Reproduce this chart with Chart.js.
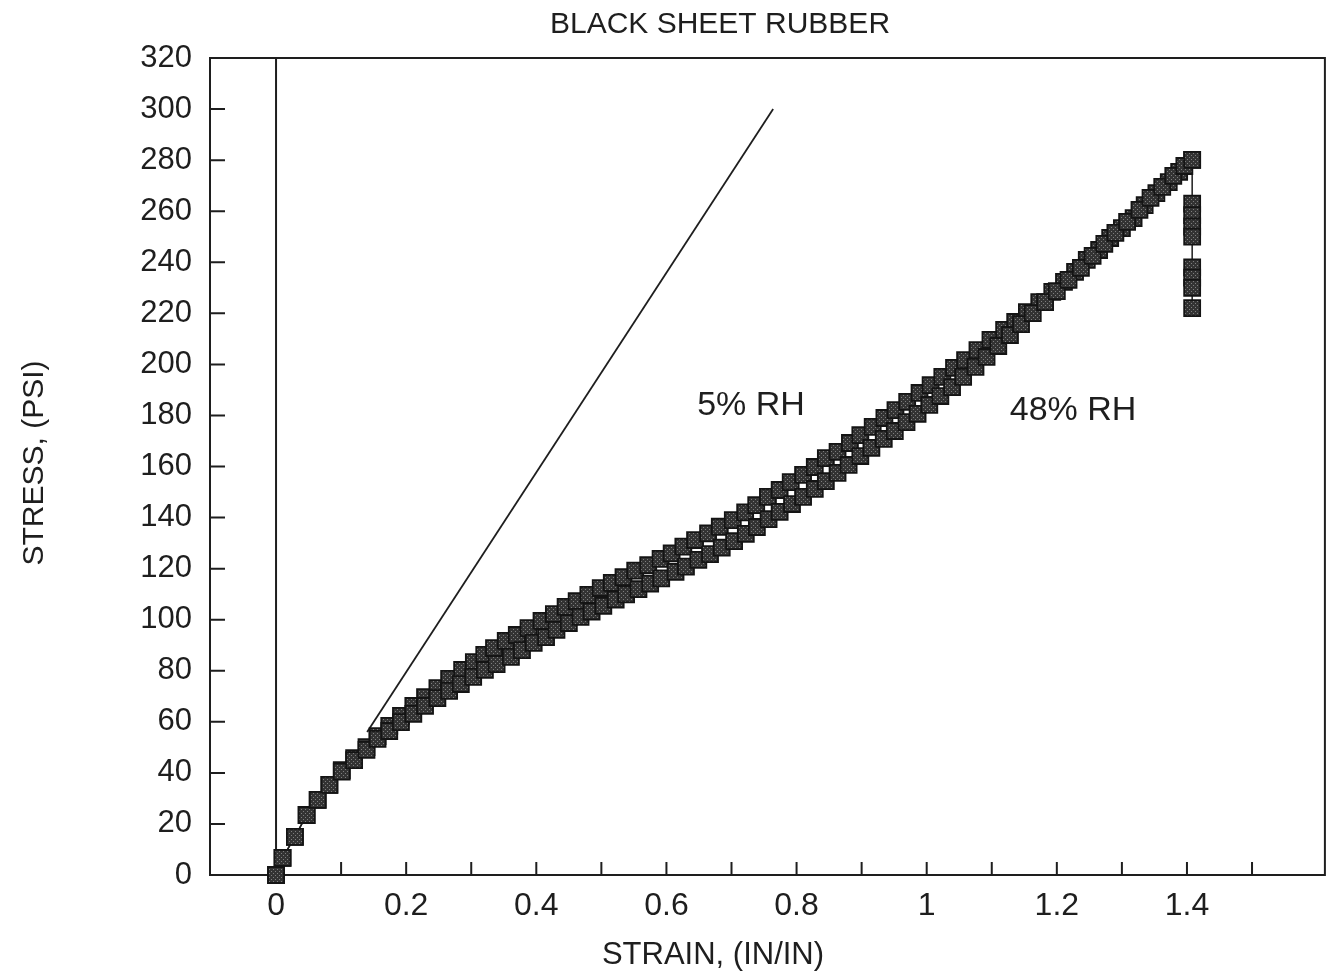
<!DOCTYPE html>
<html>
<head>
<meta charset="utf-8">
<script src="https://cdn.jsdelivr.net/npm/chart.js@4.4.1/dist/chart.umd.min.js"></script>
<style>
  html, body { margin: 0; padding: 0; background: #fff; }
  #wrap { width: 1338px; height: 976px; }
</style>
</head>
<body>
<div id="wrap"><canvas id="rubberChart"></canvas></div>
<script>
// 5% RH (upper curve)
const strainDry = [0, 0.010, 0.029, 0.047, 0.064, 0.082, 0.101, 0.120, 0.139, 0.156, 0.174, 0.192, 0.211, 0.229, 0.248, 0.266, 0.286, 0.304, 0.320, 0.335, 0.353, 0.370, 0.388, 0.408, 0.427, 0.445, 0.462, 0.480, 0.499, 0.516, 0.534, 0.552, 0.572, 0.591, 0.608, 0.626, 0.644, 0.664, 0.682, 0.702, 0.721, 0.738, 0.756, 0.774, 0.791, 0.810, 0.828, 0.845, 0.863, 0.882, 0.898, 0.917, 0.935, 0.952, 0.970, 0.989, 1.006, 1.024, 1.042, 1.059, 1.078, 1.098, 1.119, 1.136, 1.154, 1.173, 1.193, 1.211, 1.228, 1.246, 1.265, 1.282, 1.300, 1.318, 1.335, 1.353, 1.372, 1.388, 1.408];
const stressDry = [0, 6.7, 14.9, 23.5, 29.4, 35.3, 41.1, 45.8, 50.1, 54.4, 58.4, 62.3, 66.2, 69.7, 73.2, 76.8, 80.3, 83.4, 86.2, 88.9, 91.7, 94.0, 96.7, 99.5, 102.2, 105.0, 107.3, 109.7, 112.4, 114.4, 116.7, 119.2, 121.4, 123.8, 126.0, 128.6, 131.2, 133.8, 136.4, 139.0, 142.0, 144.9, 148.1, 150.8, 153.9, 156.7, 159.8, 163.3, 165.7, 169.2, 172.3, 175.5, 179.0, 182.1, 185.3, 188.8, 191.9, 195.1, 198.6, 201.7, 205.6, 209.6, 213.5, 216.6, 220.5, 224.4, 228.4, 232.3, 236.2, 240.9, 244.8, 249.5, 253.4, 257.3, 262.4, 267.1, 271.4, 275.4, 280.1];

// 48% RH (lower curve), ends with the drop at break
const strainWet = [0, 0.010, 0.029, 0.047, 0.064, 0.082, 0.101, 0.120, 0.139, 0.156, 0.174, 0.192, 0.211, 0.229, 0.248, 0.266, 0.284, 0.303, 0.321, 0.339, 0.361, 0.378, 0.396, 0.415, 0.431, 0.450, 0.468, 0.485, 0.503, 0.522, 0.538, 0.557, 0.575, 0.592, 0.614, 0.630, 0.649, 0.667, 0.685, 0.704, 0.722, 0.739, 0.757, 0.774, 0.793, 0.810, 0.828, 0.845, 0.863, 0.880, 0.898, 0.915, 0.934, 0.951, 0.969, 0.986, 1.004, 1.021, 1.039, 1.056, 1.075, 1.092, 1.110, 1.128, 1.145, 1.163, 1.182, 1.200, 1.218, 1.237, 1.255, 1.273, 1.290, 1.308, 1.327, 1.344, 1.362, 1.379, 1.396, 1.408, 1.408, 1.408, 1.408, 1.408, 1.408, 1.408, 1.408, 1.408];
const stressWet = [0, 6.7, 14.9, 23.5, 29.4, 35.3, 40.5, 45.0, 49.0, 53.3, 56.4, 59.9, 63.1, 66.2, 69.3, 72.1, 74.8, 77.6, 80.3, 82.6, 85.4, 88.1, 90.9, 93.2, 96.0, 98.7, 101.1, 103.2, 105.4, 107.9, 109.9, 112.0, 114.1, 116.2, 118.7, 120.8, 123.4, 125.7, 128.2, 130.8, 133.6, 136.3, 139.4, 142.2, 145.3, 148.1, 151.2, 154.3, 157.5, 160.6, 164.1, 167.3, 170.8, 173.9, 177.4, 180.6, 184.1, 187.6, 191.1, 195.1, 199.0, 202.9, 207.2, 211.5, 215.8, 220.1, 224.4, 228.7, 233.1, 237.8, 242.5, 247.2, 251.5, 255.8, 260.5, 265.2, 269.5, 273.8, 277.7, 280.1, 263, 258.5, 254, 250, 238, 234, 230, 222];

// straight reference line
const tangentStrain = [0.14, 0.764];
const tangentStress = [56, 300];

const xTickLabels = [0, 0.2, 0.4, 0.6, 0.8, 1, 1.2, 1.4];
const xTickMarks = [0.1, 0.2, 0.3, 0.4, 0.5, 0.6, 0.7, 0.8, 0.9, 1.0, 1.1, 1.2, 1.3, 1.4, 1.5];
const yTickLabels = [0, 20, 40, 60, 80, 100, 120, 140, 160, 180, 200, 220, 240, 260, 280, 300, 320];

const FONT = '"Liberation Sans", Arial, sans-serif';
const INK = '#1e1e1e';

function toPoints(xs, ys) {
  return xs.map((x, i) => ({ x: x, y: ys[i] }));
}

function markerFill() {
  const c = document.createElement('canvas');
  c.width = 4; c.height = 4;
  const g = c.getContext('2d');
  g.fillStyle = '#333333';
  g.fillRect(0, 0, 4, 4);
  g.fillStyle = '#7e7e7e';
  g.fillRect(1, 1, 1, 1);
  g.fillRect(3, 3, 1, 1);
  return g.createPattern(c, 'repeat');
}

const frameAndText = {
  id: 'frameAndText',
  beforeDatasetsDraw(chart) {
    const { ctx, chartArea: a, scales: { x, y } } = chart;
    ctx.save();
    ctx.strokeStyle = INK;
    ctx.lineWidth = 2;
    ctx.beginPath();
    xTickMarks.forEach(v => {
      const px = x.getPixelForValue(v);
      ctx.moveTo(px, a.bottom);
      ctx.lineTo(px, a.bottom - 13);
    });
    yTickLabels.forEach(v => {
      if (v <= 0 || v >= 320) return;
      const py = y.getPixelForValue(v);
      ctx.moveTo(a.left, py);
      ctx.lineTo(a.left + 15, py);
    });
    ctx.stroke();
    ctx.strokeRect(a.left, a.top, a.right - a.left, a.bottom - a.top);
    ctx.restore();
  },
  afterDraw(chart) {
    const { ctx, scales: { x, y } } = chart;
    ctx.save();
    ctx.fillStyle = INK;
    ctx.textAlign = 'center';
    ctx.textBaseline = 'middle';

    ctx.font = '30px ' + FONT;
    ctx.fillText('BLACK SHEET RUBBER', 720, 25);
    ctx.font = '31px ' + FONT;
    ctx.fillText('STRAIN, (IN/IN)', 713, 955);

    ctx.font = '34px ' + FONT;
    ctx.fillText('5% RH', x.getPixelForValue(0.73), y.getPixelForValue(184));
    ctx.fillText('48% RH', x.getPixelForValue(1.225), y.getPixelForValue(182));

    ctx.translate(35, 463);
    ctx.rotate(-Math.PI / 2);
    ctx.font = '30px ' + FONT;
    ctx.fillText('STRESS, (PSI)', 0, 0);
    ctx.restore();
  }
};

const fill = markerFill();

const markerStyle = {
  showLine: true,
  borderColor: INK,
  borderWidth: 1.5,
  pointStyle: 'rect',
  pointRadius: 11.3,
  pointBackgroundColor: fill,
  pointBorderColor: '#141414',
  pointBorderWidth: 1.8,
  clip: false
};

new Chart(document.getElementById('rubberChart'), {
  type: 'scatter',
  data: {
    datasets: [
      Object.assign({ label: '48% RH', data: toPoints(strainWet, stressWet) }, markerStyle),
      Object.assign({ label: '5% RH', data: toPoints(strainDry, stressDry) }, markerStyle),
      {
        label: 'tangent',
        data: toPoints(tangentStrain, tangentStress),
        showLine: true,
        borderColor: INK,
        borderWidth: 1.8,
        pointRadius: 0
      },
      {
        label: 'zero',
        data: [{ x: 0, y: 0 }, { x: 0, y: 320 }],
        showLine: true,
        borderColor: INK,
        borderWidth: 2,
        pointRadius: 0
      }
    ]
  },
  options: {
    responsive: true,
    maintainAspectRatio: false,
    animation: false,
    layout: { padding: { top: 58, right: 9, left: 0, bottom: 0 } },
    plugins: {
      legend: { display: false },
      tooltip: { enabled: false }
    },
    scales: {
      x: {
        type: 'linear',
        min: -0.1015,
        max: 1.612,
        afterBuildTicks: scale => { scale.ticks = xTickLabels.map(v => ({ value: v })); },
        afterFit: scale => { scale.height = 101; },
        ticks: {
          padding: 12,
          color: INK,
          font: { family: FONT, size: 32 },
          maxRotation: 0,
          autoSkip: false,
          callback: v => String(Number(v.toFixed(1)))
        },
        grid: { display: false, drawTicks: false },
        border: { display: false }
      },
      y: {
        type: 'linear',
        min: 0,
        max: 320,
        afterBuildTicks: scale => { scale.ticks = yTickLabels.map(v => ({ value: v })); },
        afterFit: scale => { scale.width = 210; },
        ticks: {
          padding: 18,
          color: INK,
          font: { family: FONT, size: 31 },
          autoSkip: false
        },
        grid: { display: false, drawTicks: false },
        border: { display: false }
      }
    }
  },
  plugins: [frameAndText]
});
</script>
</body>
</html>
